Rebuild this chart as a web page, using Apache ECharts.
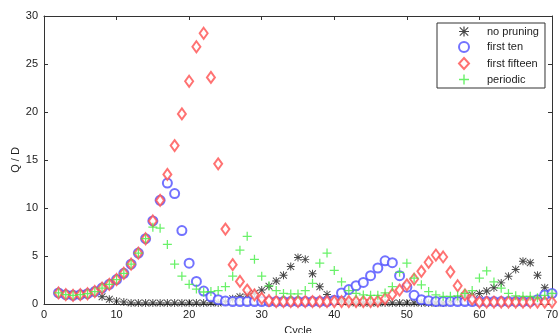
<!DOCTYPE html>
<html>
<head>
<meta charset="utf-8">
<script src="https://cdn.jsdelivr.net/npm/echarts@6/dist/echarts.min.js"></script>
<style>
  html, body { margin: 0; padding: 0; background: #fff; }
  #my-chart { width: 559px; height: 333px; }
</style>
</head>
<body>
<div id="my-chart"></div>
<script>
// cycles 2 .. 70
const cycles = Array.from({ length: 69 }, (_, i) => i + 2);

const noPruning = [
  1.15, 0.97, 0.9, 0.97, 1.07, 1.3, 0.75, 0.5, 0.3, 0.2,
  0.1, 0.1, 0.1, 0.1, 0.1, 0.1, 0.1, 0.1, 0.1, 0.1, 0.1, 0.1, 0.1,
  0.25, 0.55, 0.75, 0.95, 1.1, 1.45, 1.85, 2.4, 3.0, 3.9, 4.85, 4.65, 3.15, 1.8, 1.0, 0.45, 0.3,
  0.2,
  0.1, 0.1, 0.1, 0.1, 0.1, 0.1, 0.1, 0.1, 0.1, 0.1, 0.1, 0.1, 0.1,
  0.25, 0.5, 0.85, 0.95, 1.1, 1.35, 1.7, 2.2, 2.9, 3.6, 4.45, 4.3, 3.0, 1.7, 1.05
];

const firstTen = [
  1.15, 0.97, 0.9, 0.97, 1.07, 1.3, 1.66, 2.05, 2.55, 3.2, 4.15, 5.3, 6.8, 8.65, 10.8,
  12.6, 11.5, 7.65, 4.25, 2.35, 1.35, 0.75, 0.45, 0.3,
  0.25, 0.25, 0.25, 0.25, 0.25, 0.25, 0.25, 0.25, 0.25, 0.25, 0.25, 0.25, 0.25, 0.25,
  0.4, 1.15, 1.5, 1.9, 2.25, 2.95, 3.75, 4.5, 4.3, 2.95, 1.75, 0.9, 0.45, 0.35,
  0.25, 0.25, 0.25, 0.25, 0.25, 0.25, 0.25, 0.25, 0.25, 0.25, 0.25, 0.25, 0.25, 0.25,
  0.45, 0.95, 1.1
];

const firstFifteen = [
  1.15, 0.97, 0.9, 0.97, 1.07, 1.3, 1.66, 2.05, 2.55, 3.2, 4.15, 5.3, 6.8, 8.65, 10.8,
  13.5, 16.5, 19.8, 23.2, 26.8, 28.2, 23.6, 14.6, 7.8, 4.1, 2.35, 1.45, 0.95, 0.6, 0.35,
  0.25, 0.25, 0.25, 0.25, 0.25, 0.25, 0.25, 0.25, 0.25, 0.25, 0.25, 0.25, 0.25, 0.25,
  0.3, 0.55, 1.0, 1.45, 2.0, 2.6, 3.4, 4.35, 5.1, 4.9, 3.35, 1.9, 0.95, 0.5,
  0.2, 0.2, 0.2, 0.2, 0.2, 0.2, 0.2, 0.2, 0.2, 0.2, 0.2
];

const periodic = [
  1.15, 0.97, 0.9, 0.97, 1.07, 1.3, 1.66, 2.05, 2.55, 3.2, 4.15, 5.3, 6.8,
  8.0, 7.9, 6.2, 4.15, 2.9, 2.05, 1.55, 1.25, 1.3, 1.4, 1.8, 2.9, 5.6, 7.05,
  4.65, 2.9, 1.9, 1.4, 1.1, 1.05, 1.05, 1.4, 2.15, 4.25, 5.3, 3.5, 2.3, 1.4,
  1.1, 0.95, 0.9, 0.9, 1.15, 1.8, 3.3, 4.25, 2.7, 2.0, 1.3, 0.95, 0.8, 0.8,
  0.85, 1.1, 1.4, 2.7, 3.45, 2.3, 1.65, 1.1, 0.85, 0.8, 0.8, 0.65, 0.9, 1.1
];

const seriesNames = ["no pruning", "first ten", "first fifteen", "periodic"];

// marker shapes
const starPath = "path://M4.4,0H5.6V10H4.4Z M0,4.4H10V5.6H0Z M1.2,0.4L9.6,8.8L8.8,9.6L0.4,1.2Z M8.8,0.4L9.6,1.2L1.2,9.6L0.4,8.8Z";
const plusPath = "path://M4.3,0H5.7V4.3H10V5.7H5.7V10H4.3V5.7H0V4.3H4.3Z";

const toPoints = (vals) => vals.map((v, i) => [cycles[i], v]);

const myChart = echarts.init(document.getElementById("my-chart"));
const axisColor = "#333";
const labelStyle = { color: "#222", fontSize: 11, fontFamily: "Liberation Sans, Arial, sans-serif" };

const option = {
  animation: false,
  backgroundColor: "#fff",
  grid: { left: 44, right: 7, top: 16, bottom: 29, containLabel: false, outerBoundsMode: "none" },
  legend: {
    orient: "vertical",
    left: 437,
    top: 23,
    width: 110,
    padding: [3, 6, 3, 21],
    itemGap: 4,
    itemWidth: 10,
    itemHeight: 11,
    backgroundColor: "#fff",
    borderColor: axisColor,
    borderWidth: 1,
    textStyle: Object.assign({ padding: [0, 0, 0, 13] }, labelStyle),
    data: seriesNames,
  },
  xAxis: [
    {
      type: "value",
      min: 0,
      max: 70,
      interval: 10,
      name: "Cycle",
      nameLocation: "middle",
      nameGap: 21,
      nameMoveOverlap: false,
      nameTextStyle: labelStyle,
      axisLine: { onZero: false, lineStyle: { color: axisColor } },
      axisTick: { inside: true, length: 4, lineStyle: { color: axisColor } },
      axisLabel: Object.assign({ margin: 5 }, labelStyle),
      splitLine: { show: false },
    },
    {
      type: "value",
      position: "top",
      min: 0,
      max: 70,
      interval: 10,
      axisLine: { onZero: false, lineStyle: { color: axisColor } },
      axisTick: { inside: true, length: 4, lineStyle: { color: axisColor } },
      axisLabel: { show: false },
      splitLine: { show: false },
    },
  ],
  yAxis: [
    {
      type: "value",
      min: 0,
      max: 30,
      interval: 5,
      name: "Q / D",
      nameLocation: "middle",
      nameGap: 23,
      nameMoveOverlap: false,
      nameTextStyle: labelStyle,
      axisLine: { show: true, onZero: false, lineStyle: { color: axisColor } },
      axisTick: { show: true, inside: true, length: 4, lineStyle: { color: axisColor } },
      axisLabel: Object.assign({ margin: 6 }, labelStyle),
      splitLine: { show: false },
    },
    {
      type: "value",
      position: "right",
      min: 0,
      max: 30,
      interval: 5,
      axisLine: { show: true, onZero: false, lineStyle: { color: axisColor } },
      axisTick: { show: true, inside: true, length: 4, lineStyle: { color: axisColor } },
      axisLabel: { show: false },
      splitLine: { show: false },
    },
  ],
  series: [
    {
      name: seriesNames[0],
      type: "scatter",
      symbol: starPath,
      symbolSize: 8,
      itemStyle: { color: "#1a1a1a" },
      data: toPoints(noPruning),
    },
    {
      name: seriesNames[1],
      type: "scatter",
      symbol: "emptyCircle",
      symbolSize: 9,
      itemStyle: { color: "#4f4fff", borderWidth: 1 },
      data: toPoints(firstTen),
    },
    {
      name: seriesNames[2],
      type: "scatter",
      symbol: "emptyDiamond",
      symbolSize: [8, 11],
      itemStyle: { color: "#ff4f4f", borderWidth: 1 },
      data: toPoints(firstFifteen),
    },
    {
      name: seriesNames[3],
      type: "scatter",
      symbol: plusPath,
      symbolSize: 9,
      itemStyle: { color: "#44ee44" },
      data: toPoints(periodic),
    },
  ],
};
myChart.setOption(option);
</script>
</body>
</html>
